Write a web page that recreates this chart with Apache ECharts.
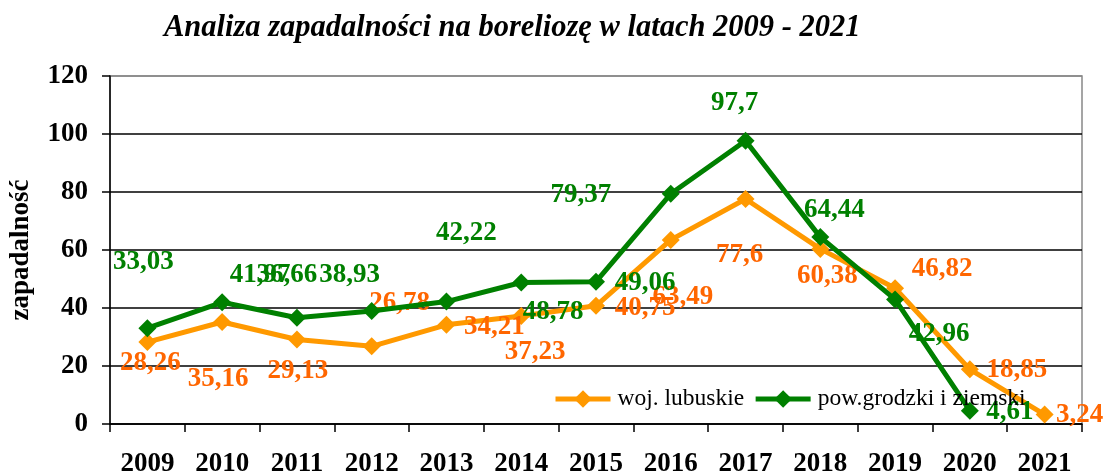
<!DOCTYPE html>
<html>
<head>
<meta charset="utf-8">
<style>
  html, body { margin: 0; padding: 0; background: #fff; }
  #chart { width: 1105px; height: 474px; }
</style>
<script src="https://cdn.jsdelivr.net/npm/echarts@6/dist/echarts.min.js"></script>
</head>
<body>
<div id="chart"></div>
<script>
const years = ['2009','2010','2011','2012','2013','2014','2015','2016','2017','2018','2019','2020','2021'];
const lubuskie = [28.26, 35.16, 29.13, 26.78, 34.21, 37.23, 40.75, 63.49, 77.6, 60.38, 46.82, 18.85, 3.24];
const powiat = [33.03, 41.97, 36.66, 38.93, 42.22, 48.78, 49.06, 79.37, 97.7, 64.44, 42.96, 4.61, null];
const yTicks = [0, 20, 40, 60, 80, 100, 120];

// label placement offsets (pixels) copied from the reference layout
const lubuskieLabelOffsets = [[3,21],[-4,57],[1,32],[28,-43],[48,2],[14,36],[49,2],[12,57],[-6,56],[7,27],[47,-19],[47,1],[35,0]];
const powiatLabelOffsets = [[-4,-66],[38,-27],[-10,-43],[-22,-36],[20,-69],[32,29],[49,1],[-90,1],[-11,-38],[14,-27],[44,35],[40,1],[0,0]];

const FONT = "'Liberation Serif', 'Times New Roman', serif";
const fmt = v => String(v).replace('.', ',');

function buildData(values, offsets, color) {
  return values.map((v, i) => v == null ? '-' : ({
    value: v,
    label: {
      show: true, position: 'inside', offset: offsets[i],
      color: color, fontFamily: FONT, fontWeight: 'bold', fontSize: 27,
      formatter: () => fmt(v)
    }
  }));
}

const chart = echarts.init(document.getElementById('chart'), null, { renderer: 'canvas' });
chart.setOption({
  animation: false,
  backgroundColor: '#ffffff',
  title: {
    text: 'Analiza zapadalności na boreliozę w latach 2009 - 2021',
    left: 159, top: 8,
    textStyle: { fontFamily: FONT, fontStyle: 'italic', fontWeight: 'bold', fontSize: 30.5, color: '#000' }
  },
  legend: {
    left: 548, top: 382,
    itemWidth: 55, itemHeight: 22, itemGap: 9,
    lineStyle: { width: 5 },
    textStyle: { fontFamily: FONT, fontSize: 23.5, color: '#000', padding: [0,0,0,2] },
    data: ['woj. lubuskie', 'pow.grodzki i ziemski']
  },
  grid: {
    left: 110, right: 23, top: 76, bottom: 50,
    outerBoundsMode: 'none', containLabel: false,
    show: true, borderColor: '#888', borderWidth: 1.5, backgroundColor: 'transparent'
  },
  xAxis: {
    type: 'category', data: years, boundaryGap: true,
    axisLine: { lineStyle: { color: '#000', width: 1.5 } },
    axisTick: { show: true, inside: false, length: 8, lineStyle: { color: '#000', width: 1.5 } },
    axisLabel: { margin: 27, color: '#000', fontFamily: FONT, fontWeight: 'bold', fontSize: 27, interval: 0 },
    splitLine: { show: false }
  },
  yAxis: {
    type: 'value', min: yTicks[0], max: yTicks[yTicks.length - 1], interval: 20,
    name: 'zapadalność', nameLocation: 'middle', nameGap: 75, nameRotate: 90,
    nameTextStyle: { fontFamily: FONT, fontWeight: 'bold', fontSize: 27, color: '#000' },
    axisLine: { show: true, lineStyle: { color: '#000', width: 1.5 } },
    axisTick: { show: true, inside: false, length: 8, lineStyle: { color: '#000', width: 1.5 } },
    axisLabel: { margin: 22, color: '#000', fontFamily: FONT, fontWeight: 'bold', fontSize: 27 },
    splitLine: { show: true, lineStyle: { color: ['#000','#000','#000','#000','#000','#000','#888'], width: 1.5 } }
  },
  series: [
    {
      name: 'woj. lubuskie', type: 'line',
      data: buildData(lubuskie, lubuskieLabelOffsets, '#FF6600'),
      color: '#FF9900',
      lineStyle: { width: 5, color: '#FF9900' },
      itemStyle: { color: '#FF9900' },
      symbol: 'diamond', symbolSize: 18, showAllSymbol: true,
      z: 2
    },
    {
      name: 'pow.grodzki i ziemski', type: 'line',
      data: buildData(powiat, powiatLabelOffsets, '#008000'),
      color: '#008000',
      lineStyle: { width: 5, color: '#008000' },
      itemStyle: { color: '#008000' },
      symbol: 'diamond', symbolSize: 18, showAllSymbol: true,
      connectNulls: false,
      z: 3
    }
  ]
});
</script>
</body>
</html>
